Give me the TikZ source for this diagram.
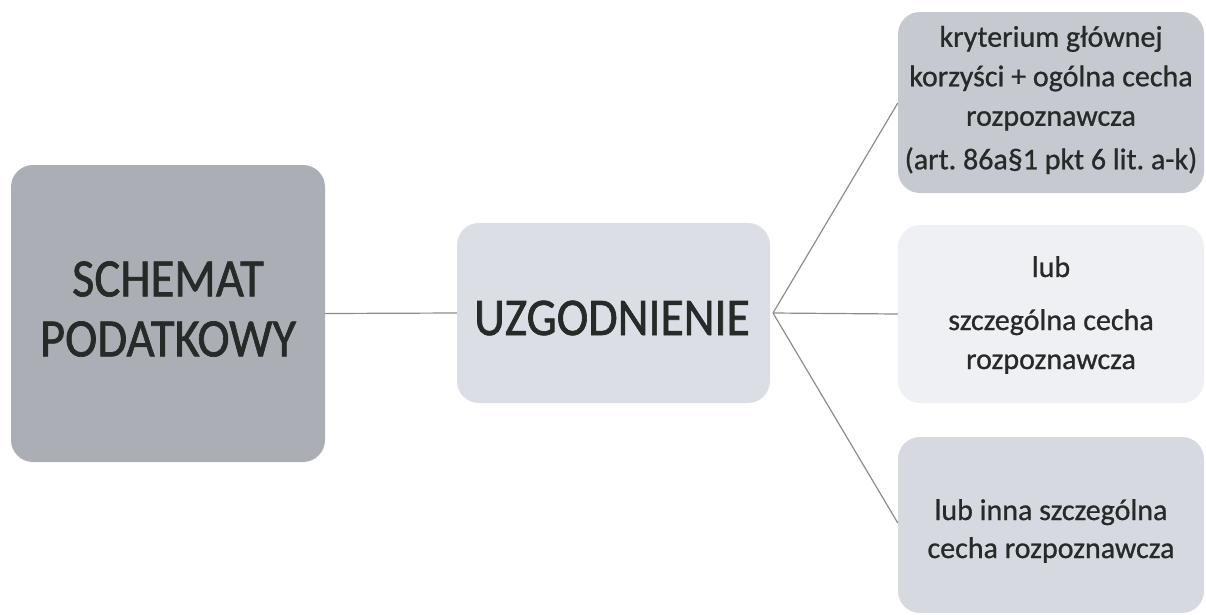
\documentclass[tikz,border=0pt]{standalone}
\usepackage{fontspec}
\setmainfont{Carlito}[FakeBold=0.8]
\newfontfamily\bigfont{Carlito}[FakeStretch=0.9,FakeBold=1.2]
\frenchspacing
\definecolor{txt}{HTML}{262A28}
\definecolor{cLeft}{HTML}{ABAEB4}
\definecolor{cMid}{HTML}{DCDEE5}
\definecolor{cTop}{HTML}{C7C9D0}
\definecolor{cMidR}{HTML}{EFF0F4}
\definecolor{cBot}{HTML}{D7D9E0}
\definecolor{lineg}{HTML}{8C8C8C}
\tikzset{
  box/.style={rounded corners=22pt, draw=none, inner sep=0pt},
  lbl/.style={text=txt, align=center, inner sep=0pt},
  conn/.style={draw=lineg, line width=1.2pt}
}
\begin{document}
\begin{tikzpicture}[x=1pt,y=-1pt]
\useasboundingbox (0,0) rectangle (1206,614);
% boxes
\node[box, fill=cLeft, minimum width=314pt, minimum height=297pt] (schemat) at (168,313.5) {};
\node[box, fill=cMid, minimum width=313pt, minimum height=180pt] (uzg) at (613.5,313) {};
\node[box, fill=cTop, minimum width=306pt, minimum height=181pt] (top) at (1051,102.5) {};
\node[box, fill=cMidR, minimum width=306pt, minimum height=178pt] (mid) at (1051,314) {};
\node[box, fill=cBot, minimum width=306pt, minimum height=176pt] (bot) at (1051,525) {};
% texts
\node[lbl, font=\bigfont\fontsize{54}{60}\selectfont] (schematT) at (168,309) {SCHEMAT\\PODATKOWY};
\node[lbl, font=\bigfont\fontsize{53}{58}\selectfont] (uzgT) at (612,318) {UZGODNIENIE};
\node[lbl, font=\fontsize{30}{39.5}\selectfont] (topT) at (1051,100)
      {kryterium głównej\\korzyści + ogólna cecha\\rozpoznawcza\\[4pt](art. 86a§1 pkt 6 lit. a-k)};
\node[lbl, font=\fontsize{30}{39}\selectfont] (midT) at (1051,315)
      {lub\\[14pt]szczególna cecha\\rozpoznawcza};
\node[lbl, font=\fontsize{30}{38}\selectfont] (botT) at (1051,531)
      {lub inna szczególna\\cecha rozpoznawcza};
% connectors
\coordinate (hub) at (773,313);
\draw[conn] (schemat.east) -- (uzg.west);
\draw[conn] (hub) -- (top.west |- 0,103);
\draw[conn] (hub) -- (mid.west);
\draw[conn] (hub) -- (bot.west |- 0,523);
\end{tikzpicture}
\end{document}
